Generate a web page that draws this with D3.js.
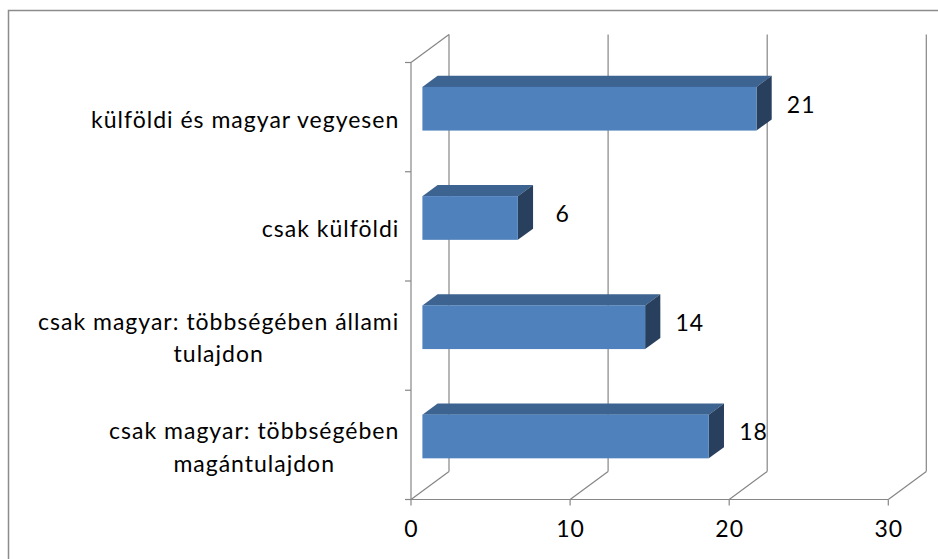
<!DOCTYPE html>
<html>
<head>
<meta charset="utf-8">
<script src="https://cdn.jsdelivr.net/npm/d3@7"></script>
<style>
  html, body { margin: 0; padding: 0; background: #fff; }
  svg { display: block; }
  text { font-family: Lato, "Open Sans", sans-serif; fill: #000; }
</style>
</head>
<body>
<svg id="chart" width="938" height="559"></svg>
<script>
// ---- data ----
const categories = [
  "külföldi és magyar vegyesen",
  "csak külföldi",
  "csak magyar: többségében állami\ntulajdon",
  "csak magyar: többségében\nmagántulajdon"
];
const values = [21, 6, 14, 18];
const xTicks = [0, 10, 20, 30];

// ---- layout ----
const W = 938, H = 559;
const svg = d3.select("#chart");

const x = d3.scaleLinear().domain([0, 30]).range([411, 888.3]);
const y = d3.scaleBand().domain(categories).range([62.5, 499.5])
  .paddingInner(0.6).paddingOuter(0.3);

const D = { x: 38, y: -28 };      // depth vector of the plot box (front -> back wall)
const f1 = 0.30, f2 = 0.70;        // bar front / back depth fractions
const gridColor = "#868686";
const fontSize = 23;

// outer chart border
svg.append("rect")
  .attr("x", 8.5).attr("y", 10.5)
  .attr("width", W + 20).attr("height", H + 20)
  .attr("fill", "none").attr("stroke", "#8c8c8c").attr("stroke-width", 1.5);

const yTop = y.range()[0], yBot = y.range()[1];
const g = svg.append("g");

// back wall vertical gridlines
g.selectAll("line.grid").data(xTicks).enter().append("line")
  .attr("class", "grid")
  .attr("x1", d => x(d) + D.x).attr("x2", d => x(d) + D.x)
  .attr("y1", yTop + D.y).attr("y2", yBot + D.y)
  .attr("stroke", gridColor).attr("stroke-width", 1.2);

// floor diagonals
g.selectAll("line.floor").data(xTicks).enter().append("line")
  .attr("x1", d => x(d)).attr("y1", yBot)
  .attr("x2", d => x(d) + D.x).attr("y2", yBot + D.y)
  .attr("stroke", gridColor).attr("stroke-width", 1.2);

// left wall top diagonal
g.append("line")
  .attr("x1", x(0)).attr("y1", yTop)
  .attr("x2", x(0) + D.x).attr("y2", yTop + D.y)
  .attr("stroke", gridColor).attr("stroke-width", 1.2);

// category axis (front left)
g.append("line")
  .attr("x1", x(0)).attr("x2", x(0)).attr("y1", yTop).attr("y2", yBot)
  .attr("stroke", gridColor).attr("stroke-width", 1.2);
const catTicks = d3.range(categories.length + 1).map(k => yTop + k * y.step());
g.selectAll("line.ctick").data(catTicks).enter().append("line")
  .attr("x1", x(0) - 6).attr("x2", x(0)).attr("y1", d => d).attr("y2", d => d)
  .attr("stroke", gridColor).attr("stroke-width", 1.2);

// value axis (front bottom)
g.append("line")
  .attr("x1", x(0)).attr("x2", x(30)).attr("y1", yBot).attr("y2", yBot)
  .attr("stroke", gridColor).attr("stroke-width", 1.2);
g.selectAll("line.vtick").data(xTicks).enter().append("line")
  .attr("x1", d => x(d)).attr("x2", d => x(d)).attr("y1", yBot).attr("y2", yBot + 6)
  .attr("stroke", gridColor).attr("stroke-width", 1.2);
g.selectAll("text.vlab").data(xTicks).enter().append("text")
  .attr("x", d => x(d) + 0.5).attr("y", 536.5)
  .attr("text-anchor", "middle").attr("font-size", fontSize)
  .attr("letter-spacing", 1)
  .text(d => d);

// bars
const bars = g.selectAll("g.bar").data(categories.map((c, i) => ({ c, v: values[i] })))
  .enter().append("g");
bars.each(function (d) {
  const sel = d3.select(this);
  const x0 = x(0) + D.x * f1;
  const x1 = x(d.v) + D.x * f1;
  const yt = y(d.c) + D.y * f1;
  const h = y.bandwidth();
  const dx = D.x * (f2 - f1), dy = D.y * (f2 - f1);
  const bandStart = y(d.c) - y.paddingOuter() * y.step();
  // top face
  sel.append("path")
    .attr("d", `M${x0},${yt}L${x0 + dx},${yt + dy}L${x1 + dx},${yt + dy}L${x1},${yt}Z`)
    .attr("fill", "#3d6390");
  // right side face
  sel.append("path")
    .attr("d", `M${x1},${yt}L${x1 + dx},${yt + dy}L${x1 + dx},${yt + h + dy}L${x1},${yt + h}Z`)
    .attr("fill", "#283f5e");
  // front face
  sel.append("rect")
    .attr("x", x0).attr("y", yt).attr("width", x1 - x0).attr("height", h)
    .attr("fill", "#4f81bd");
  // value label
  sel.append("text")
    .attr("x", x1 + dx + 29.5)
    .attr("y", bandStart + 50.2)
    .attr("text-anchor", "middle").attr("font-size", fontSize)
    .attr("letter-spacing", 1)
    .text(d.v);
});

// category labels (block right-aligned, lines centred within block)
const labelRight = 399.3, lineGap = 32.5;
categories.forEach(c => {
  const lines = c.split("\n");
  const bandCenter = y(c) + y.bandwidth() / 2;
  const t = g.append("text").attr("font-size", fontSize).attr("text-anchor", "middle")
    .attr("letter-spacing", 1);
  const first = bandCenter + 10.5 - (lines.length - 1) * lineGap / 2;
  const spans = lines.map((ln, k) => t.append("tspan").attr("y", first + k * lineGap).text(ln));
  const wMax = d3.max(spans, s => s.node().getComputedTextLength());
  spans.forEach(s => s.attr("x", labelRight - wMax / 2));
});
</script>
</body>
</html>
